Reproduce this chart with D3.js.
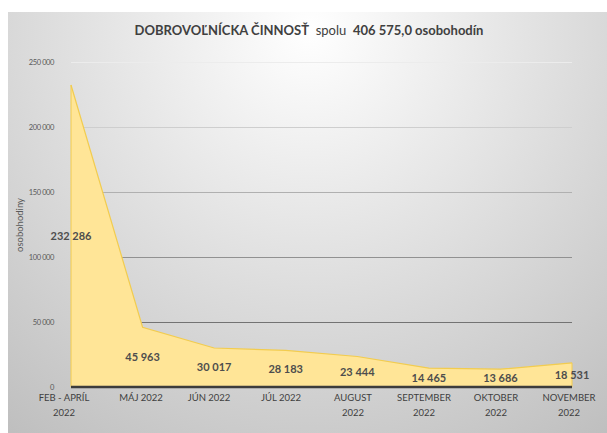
<!DOCTYPE html>
<html>
<head>
<meta charset="utf-8">
<script src="https://cdn.jsdelivr.net/npm/d3@7"></script>
<style>
body { margin: 0; background: #fff; }
svg { display: block; font-family: Lato, "Open Sans", sans-serif; }
</style>
</head>
<body>
<script>
var width = 607;
var height = 433;

var months = [["FEB - APRÍL", "2022"], ["MÁJ 2022"], ["JÚN 2022"], ["JÚL 2022"], ["AUGUST", "2022"], ["SEPTEMBER", "2022"], ["OKTOBER", "2022"], ["NOVEMBER", "2022"]];
var hours = [232286, 45963, 30017, 28183, 23444, 14465, 13686, 18531];
var labels = ["232 286", "45 963", "30 017", "28 183", "23 444", "14 465", "13 686", "18 531"];
var yTicks = [0, 50000, 100000, 150000, 200000, 250000];

var x = d3.scalePoint()
.domain(d3.range(months.length))
.range([71, 572]);

var y = d3.scaleLinear()
.domain([0, 250000])
.range([387, 62]);

var svg = d3.select("body").append("svg")
.attr("width", width)
.attr("height", height);

var defs = svg.append("defs");
var grad = defs.append("radialGradient")
.attr("id", "bg")
.attr("gradientUnits", "userSpaceOnUse")
.attr("cx", 310).attr("cy", 30).attr("r", 500);
grad.append("stop").attr("offset", "0").attr("stop-color", "#ffffff");
grad.append("stop").attr("offset", "0.45").attr("stop-color", "#e2e2e2");
grad.append("stop").attr("offset", "1").attr("stop-color", "#bfbfbf");

svg.append("rect")
.attr("x", 8).attr("y", 12)
.attr("width", width - 8).attr("height", height - 12)
.attr("fill", "url(#bg)");

// gridlines get darker further down, like the reference
var gridColor = d3.scaleLinear().domain([250000, 0]).range(["#ececec", "#555555"]);
svg.append("g")
.selectAll("line")
.data(yTicks.slice(1))
.enter().append("line")
.attr("x1", 71).attr("x2", 572)
.attr("y1", function(d) { return y(d) + 0.5 })
.attr("y2", function(d) { return y(d) + 0.5 })
.attr("stroke", function(d) { return gridColor(d) })
.attr("stroke-width", 1);

svg.append("g")
.selectAll("text")
.data(yTicks)
.enter().append("text")
.attr("x", 54)
.attr("y", function(d) { return y(d) + 2.5 })
.attr("text-anchor", "end")
.attr("font-size", 7.5)
.attr("letter-spacing", -0.4)
.attr("fill", "#595959")
.text(function(d) { return d == 0 ? "0" : d3.format(",")(d).replace(",", " ") });

var area = d3.area()
.x(function(d, i) { return x(i) })
.y0(y(0))
.y1(function(d) { return y(d) });

var line = d3.line()
.x(function(d, i) { return x(i) })
.y(function(d) { return y(d) });

svg.append("path")
.datum(hours)
.attr("d", area)
.attr("fill", "#ffe597");

svg.append("path")
.datum(hours)
.attr("d", line)
.attr("fill", "none")
.attr("stroke", "#f2cc4f")
.attr("stroke-width", 1.2);

svg.append("line")
.attr("x1", x(0)).attr("x2", x(0))
.attr("y1", y(hours[0])).attr("y2", y(0))
.attr("stroke", "#f2cc4f").attr("stroke-width", 1);
svg.append("line")
.attr("x1", x(7)).attr("x2", x(7))
.attr("y1", y(hours[7])).attr("y2", y(0))
.attr("stroke", "#f2cc4f").attr("stroke-width", 1);

// base line
svg.append("line")
.attr("x1", 71).attr("x2", 572)
.attr("y1", y(0)).attr("y2", y(0))
.attr("stroke", "#3c3c3c")
.attr("stroke-width", 2.5);

svg.append("g")
.selectAll("text")
.data(hours)
.enter().append("text")
.attr("x", function(d, i) { return x(i) })
.attr("y", function(d) { return y(d / 2) + 4 })
.attr("text-anchor", "middle")
.attr("font-size", 11)
.attr("font-weight", "bold")
.attr("fill", "#4d4d4d")
.text(function(d, i) { return labels[i] });

// first label sits a bit left of its point in the reference
var labelX = [64, 141, 209, 281, 353, 424, 496, 569];
var xl = svg.append("g")
.selectAll("text")
.data(months)
.enter().append("text")
.attr("x", function(d, i) { return labelX[i] })
.attr("y", 401)
.attr("text-anchor", "middle")
.attr("font-size", 9.5)
.attr("fill", "#404040");
xl.selectAll("tspan")
.data(function(d) { return d })
.enter().append("tspan")
.attr("x", function() { return d3.select(this.parentNode).attr("x") })
.attr("dy", function(d, i) { return i == 0 ? 0 : 15 })
.text(function(d) { return d });

svg.append("text")
.attr("transform", "translate(23,225) rotate(-90)")
.attr("text-anchor", "middle")
.attr("font-size", 9.5)
.attr("fill", "#595959")
.text("osobohodiny");

var title = svg.append("text")
.attr("x", 309)
.attr("y", 35)
.attr("text-anchor", "middle")
.attr("font-size", 13)
.attr("fill", "#404040");
title.append("tspan").attr("font-weight", "bold").text("DOBROVOĽNÍCKA ČINNOSŤ");
title.append("tspan").text("  spolu  ");
title.append("tspan").attr("font-weight", "bold").text("406 575,0 osobohodín");
title.attr("xml:space", "preserve");
</script>
</body>
</html>
